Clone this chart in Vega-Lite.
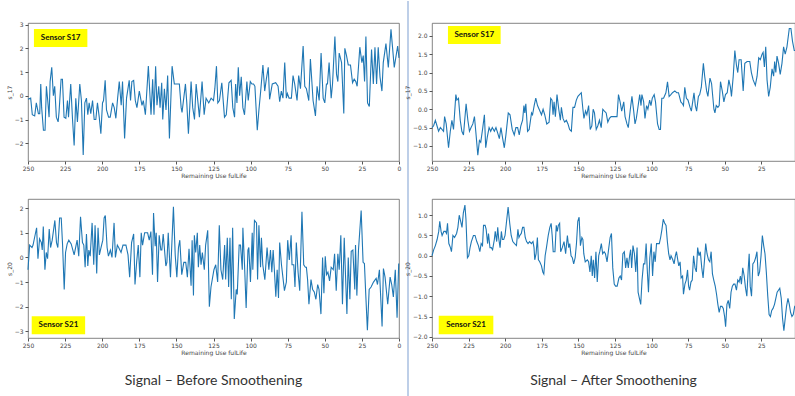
{
"$schema": "https://vega.github.io/schema/vega-lite/v6.json",
"background": "white",
"padding": {"left": 5, "top": 0, "right": 0, "bottom": 0},
"columns": 3,
"spacing": {"row": 38, "column": 9},
"bounds": "flush",
"config": {
  "view": {"stroke": "#666", "strokeWidth": 0.8},
  "axis": {"domain": false, "grid": false, "tickColor": "#555", "tickSize": 3, "labelFont": "DejaVu Sans", "labelFontSize": 6, "labelColor": "#444", "labelOverlap": false, "titleFont": "DejaVu Sans", "titleFontSize": 6, "titleColor": "#444", "titleFontWeight": "normal", "labelPadding": 2, "titlePadding": 2},
  "axisX": {"labelFlush": false, "labelPadding": 1, "titlePadding": 1},
  "line": {"color": "#1f77b4", "strokeWidth": 1.1}
},
"datasets": {
"tl": [{"x":250,"y":-0.15},{"x":248.2,"y":-0.1},{"x":247.1,"y":-0.8},{"x":245.5,"y":-0.85},{"x":244.4,"y":-0.3},{"x":243.0,"y":-0.75},{"x":242.1,"y":-0.75},{"x":241.4,"y":0.5},{"x":240.8,"y":-0.5},{"x":239.6,"y":-1.45},{"x":238.5,"y":-1.45},{"x":237.6,"y":0.4},{"x":236.7,"y":-0.2},{"x":235.8,"y":-0.9},{"x":235.1,"y":0.6},{"x":234.0,"y":1.2},{"x":232.9,"y":0},{"x":232.0,"y":0.4},{"x":230.9,"y":-0.9},{"x":229.7,"y":-1.1},{"x":229.1,"y":-0.7},{"x":227.7,"y":0.7},{"x":226.8,"y":0.7},{"x":225.7,"y":-0.9},{"x":224.5,"y":-0.95},{"x":223.4,"y":-0.2},{"x":222.7,"y":-0.9},{"x":221.2,"y":0.5},{"x":220.0,"y":-1.0},{"x":218.9,"y":-2.1},{"x":217.8,"y":-0.1},{"x":216.7,"y":-1.1},{"x":215.1,"y":0.5},{"x":214.0,"y":-0.2},{"x":212.8,"y":-2.5},{"x":211.7,"y":-0.3},{"x":210.6,"y":-0.1},{"x":209.7,"y":-0.8},{"x":208.8,"y":-0.3},{"x":207.7,"y":-0.75},{"x":206.5,"y":-0.2},{"x":205.4,"y":-1.0},{"x":204.3,"y":-1.0},{"x":203.2,"y":-0.3},{"x":202.0,"y":-0.9},{"x":200.9,"y":-1.6},{"x":199.8,"y":-0.3},{"x":199.1,"y":-0.2},{"x":198.0,"y":0.65},{"x":197.1,"y":-0.6},{"x":195.7,"y":-0.9},{"x":194.6,"y":-0.9},{"x":193.0,"y":-0.3},{"x":191.9,"y":-0.5},{"x":190.8,"y":-0.95},{"x":189.6,"y":-0.1},{"x":188.5,"y":0.6},{"x":187.2,"y":-0.4},{"x":186.3,"y":0.6},{"x":184.9,"y":-1.8},{"x":183.6,"y":-0.1},{"x":181.8,"y":0.65},{"x":180.9,"y":-0.2},{"x":180.0,"y":0.6},{"x":178.8,"y":0.65},{"x":177.7,"y":-0.2},{"x":176.6,"y":-0.5},{"x":175.0,"y":0.2},{"x":173.2,"y":-0.4},{"x":172.3,"y":-0.2},{"x":170.9,"y":-0.8},{"x":168.9,"y":1.25},{"x":167.1,"y":-0.8},{"x":166.0,"y":0.7},{"x":165.1,"y":-0.8},{"x":164.0,"y":1.25},{"x":163.1,"y":-0.4},{"x":161.9,"y":0.4},{"x":161.0,"y":-0.5},{"x":159.9,"y":0.55},{"x":159.2,"y":-1.0},{"x":158.1,"y":0.3},{"x":157.0,"y":-0.6},{"x":155.9,"y":0.85},{"x":154.7,"y":-1.8},{"x":153.6,"y":0.1},{"x":152.9,"y":1.25},{"x":151.4,"y":0.5},{"x":148.0,"y":0.5},{"x":146.8,"y":-0.5},{"x":146.2,"y":-0.7},{"x":143.9,"y":0.5},{"x":143.0,"y":-0.3},{"x":141.9,"y":-1.6},{"x":140.1,"y":0.6},{"x":139.0,"y":-0.5},{"x":137.8,"y":-1.0},{"x":136.7,"y":0.5},{"x":135.6,"y":-0.2},{"x":134.5,"y":-0.9},{"x":132.7,"y":0.6},{"x":131.3,"y":-0.8},{"x":130.0,"y":-0.1},{"x":128.2,"y":-0.3},{"x":126.6,"y":-0.1},{"x":125.0,"y":-0.2},{"x":124.1,"y":0.3},{"x":123.0,"y":1.25},{"x":122.1,"y":-0.3},{"x":121.0,"y":-0.2},{"x":119.4,"y":0.55},{"x":117.6,"y":-0.9},{"x":116.4,"y":-0.8},{"x":114.6,"y":0.55},{"x":113.1,"y":0.65},{"x":112.0,"y":-0.5},{"x":110.8,"y":-0.9},{"x":110.1,"y":0.5},{"x":109.2,"y":-0.3},{"x":108.3,"y":1.2},{"x":107.4,"y":0.0},{"x":106.3,"y":0.8},{"x":105.2,"y":-0.5},{"x":104.1,"y":-0.8},{"x":102.5,"y":0.6},{"x":101.6,"y":-0.2},{"x":100.2,"y":0.6},{"x":99.1,"y":0.5},{"x":98.0,"y":0.5},{"x":97.1,"y":0.4},{"x":95.5,"y":-1.45},{"x":94.4,"y":-0.6},{"x":93.2,"y":0.2},{"x":91.7,"y":1.3},{"x":90.5,"y":0.2},{"x":89.4,"y":0.7},{"x":88.1,"y":1.2},{"x":87.2,"y":-0.15},{"x":85.4,"y":0.5},{"x":83.1,"y":0.55},{"x":81.5,"y":0.4},{"x":80.4,"y":-0.25},{"x":79.3,"y":0.2},{"x":78.2,"y":-0.1},{"x":77.0,"y":1.4},{"x":75.9,"y":-0.1},{"x":75.2,"y":0.1},{"x":74.1,"y":-0.1},{"x":72.5,"y":-0.1},{"x":71.4,"y":0.85},{"x":70.3,"y":0.5},{"x":68.7,"y":-0.2},{"x":67.6,"y":0.85},{"x":66.4,"y":0.3},{"x":64.6,"y":2.1},{"x":63.5,"y":0.4},{"x":62.4,"y":0.3},{"x":60.8,"y":-0.2},{"x":59.7,"y":1.55},{"x":57.9,"y":-0.2},{"x":56.3,"y":-0.85},{"x":55.2,"y":0.4},{"x":53.8,"y":-0.2},{"x":52.5,"y":1.8},{"x":51.1,"y":-0.1},{"x":50.0,"y":-0.3},{"x":48.9,"y":0.5},{"x":48.2,"y":0.5},{"x":47.1,"y":1.4},{"x":45.7,"y":-0.1},{"x":44.8,"y":0.5},{"x":43.2,"y":2.5},{"x":42.1,"y":0.9},{"x":41.2,"y":0.6},{"x":40.3,"y":1.8},{"x":38.7,"y":1.4},{"x":37.2,"y":-0.75},{"x":36.5,"y":2.0},{"x":35.4,"y":1.7},{"x":34.2,"y":1.3},{"x":32.7,"y":1.3},{"x":31.3,"y":0.55},{"x":30.2,"y":0.7},{"x":29.1,"y":0.6},{"x":28.2,"y":0.4},{"x":26.4,"y":2.05},{"x":25.0,"y":1.4},{"x":24.1,"y":1.7},{"x":23.2,"y":0.6},{"x":22.3,"y":2.5},{"x":21.2,"y":-0.3},{"x":20.0,"y":-0.45},{"x":18.5,"y":1.95},{"x":17.3,"y":0.5},{"x":16.2,"y":2.05},{"x":15.1,"y":0.5},{"x":14.0,"y":2.05},{"x":12.8,"y":0.8},{"x":11.5,"y":0.2},{"x":10.6,"y":1.4},{"x":8.8,"y":2.2},{"x":7.2,"y":1.2},{"x":5.4,"y":2.8},{"x":4.3,"y":2.0},{"x":3.2,"y":1.2},{"x":0.9,"y":2.1},{"x":0,"y":1.6}],
"bl": [{"x":250,"y":-0.5},{"x":248.9,"y":0.5},{"x":247.3,"y":0.4},{"x":246.6,"y":0.5},{"x":244.9,"y":1.0},{"x":244.2,"y":1.2},{"x":243.3,"y":-0.05},{"x":242.2,"y":0.75},{"x":241.0,"y":0.6},{"x":240.4,"y":0.3},{"x":239.7,"y":1.25},{"x":238.6,"y":-0.5},{"x":237.7,"y":0.2},{"x":236.8,"y":-0.05},{"x":235.7,"y":1.15},{"x":234.8,"y":0.4},{"x":233.7,"y":0.7},{"x":231.9,"y":1.5},{"x":230.8,"y":0.6},{"x":229.9,"y":0.4},{"x":228.7,"y":1.6},{"x":227.6,"y":1.6},{"x":226.7,"y":0.5},{"x":225.6,"y":-1.3},{"x":224.7,"y":0.2},{"x":223.6,"y":0.55},{"x":222.5,"y":0.7},{"x":220.9,"y":0.55},{"x":220.0,"y":0.35},{"x":218.9,"y":0.1},{"x":216.9,"y":0.7},{"x":215.8,"y":0.05},{"x":214.6,"y":1.65},{"x":213.3,"y":0.6},{"x":212.4,"y":0.5},{"x":211.5,"y":-0.4},{"x":210.6,"y":0.95},{"x":209.7,"y":-0.35},{"x":209.0,"y":0.3},{"x":208.1,"y":0.05},{"x":206.8,"y":1.4},{"x":205.7,"y":-0.3},{"x":204.8,"y":1.3},{"x":203.7,"y":-0.65},{"x":202.8,"y":1.2},{"x":201.9,"y":0.1},{"x":200.8,"y":0.4},{"x":199.6,"y":0.7},{"x":198.7,"y":1.6},{"x":197.9,"y":1.7},{"x":196.7,"y":0.4},{"x":195.8,"y":0.05},{"x":194.5,"y":0.3},{"x":193.4,"y":0.0},{"x":192.0,"y":1.4},{"x":191.1,"y":0.0},{"x":189.8,"y":0.5},{"x":188.9,"y":0.4},{"x":187.3,"y":0.2},{"x":186.0,"y":0.5},{"x":184.0,"y":0.5},{"x":182.6,"y":0.1},{"x":181.5,"y":-0.8},{"x":180.2,"y":0.6},{"x":178.8,"y":0.95},{"x":177.9,"y":-1.1},{"x":176.8,"y":-0.2},{"x":175.7,"y":0.5},{"x":174.6,"y":-0.8},{"x":173.7,"y":1.0},{"x":172.8,"y":0.5},{"x":171.4,"y":1.0},{"x":169.4,"y":1.0},{"x":168.3,"y":0.7},{"x":167.2,"y":1.05},{"x":166.1,"y":-0.7},{"x":165.4,"y":1.8},{"x":164.3,"y":0.45},{"x":163.6,"y":1.0},{"x":162.7,"y":-1.0},{"x":161.6,"y":0.9},{"x":160.5,"y":0.3},{"x":159.8,"y":0.3},{"x":158.9,"y":0.95},{"x":157.1,"y":-0.35},{"x":156.4,"y":-0.2},{"x":155.5,"y":1.0},{"x":154.0,"y":-0.8},{"x":153.1,"y":0.5},{"x":152.0,"y":2.05},{"x":150.8,"y":0.1},{"x":149.7,"y":-0.8},{"x":148.6,"y":0.4},{"x":147.7,"y":0.7},{"x":146.4,"y":-0.7},{"x":145.0,"y":-0.2},{"x":143.7,"y":-0.2},{"x":142.6,"y":-0.8},{"x":141.5,"y":0.35},{"x":140.1,"y":-1.15},{"x":139.4,"y":0.7},{"x":138.5,"y":-1.55},{"x":137.9,"y":0.9},{"x":137.0,"y":0.2},{"x":135.9,"y":1.0},{"x":135.2,"y":-0.4},{"x":134.3,"y":0.5},{"x":133.4,"y":-0.3},{"x":132.5,"y":0.2},{"x":131.2,"y":-0.5},{"x":130.3,"y":0.5},{"x":128.9,"y":1.1},{"x":127.8,"y":-2.0},{"x":126.7,"y":-1.2},{"x":124.7,"y":-0.5},{"x":123.5,"y":-0.3},{"x":122.2,"y":-1.0},{"x":121.1,"y":1.3},{"x":120.0,"y":-0.5},{"x":118.8,"y":-0.9},{"x":117.5,"y":0.5},{"x":116.8,"y":-0.9},{"x":115.7,"y":0.8},{"x":114.8,"y":-1.2},{"x":113.9,"y":0.8},{"x":113.0,"y":-1.7},{"x":112.1,"y":1.2},{"x":111.0,"y":-2.5},{"x":109.7,"y":-1.3},{"x":109.0,"y":-1.5},{"x":107.7,"y":0.5},{"x":106.8,"y":0.5},{"x":105.6,"y":-0.5},{"x":105.2,"y":1.2},{"x":104.1,"y":-0.3},{"x":103.0,"y":-2.05},{"x":101.8,"y":0.3},{"x":101.2,"y":0.4},{"x":100.1,"y":-1.0},{"x":98.9,"y":1.0},{"x":98.5,"y":-0.5},{"x":97.4,"y":1.5},{"x":96.0,"y":1.4},{"x":95.3,"y":-0.9},{"x":94.4,"y":1.3},{"x":93.3,"y":-0.4},{"x":92.7,"y":0.8},{"x":91.8,"y":-0.3},{"x":90.4,"y":-0.9},{"x":88.9,"y":0.4},{"x":87.7,"y":-0.5},{"x":86.6,"y":0.3},{"x":85.7,"y":-0.6},{"x":84.8,"y":0.3},{"x":83.9,"y":-0.6},{"x":83.0,"y":-1.6},{"x":82.1,"y":-0.5},{"x":81.2,"y":-1.65},{"x":80.4,"y":0.6},{"x":79.2,"y":-0.3},{"x":77.2,"y":-1.35},{"x":75.9,"y":-1.0},{"x":75.0,"y":0.7},{"x":73.9,"y":-0.1},{"x":72.7,"y":0.9},{"x":72.1,"y":-0.3},{"x":70.9,"y":-0.3},{"x":70.1,"y":-1.2},{"x":69.2,"y":0.6},{"x":68.0,"y":-0.6},{"x":66.9,"y":-1.35},{"x":65.4,"y":1.85},{"x":64.2,"y":-0.3},{"x":63.1,"y":-0.4},{"x":62.4,"y":-0.4},{"x":61.6,"y":-0.9},{"x":60.7,"y":-1.9},{"x":59.3,"y":-0.9},{"x":58.2,"y":-1.3},{"x":57.1,"y":-1.4},{"x":56.0,"y":-1.7},{"x":54.8,"y":-1.1},{"x":53.9,"y":-1.3},{"x":52.6,"y":-2.3},{"x":51.5,"y":0.0},{"x":50.6,"y":-1.45},{"x":49.7,"y":0.05},{"x":48.8,"y":-0.7},{"x":47.9,"y":-0.6},{"x":46.8,"y":-0.95},{"x":45.7,"y":-0.4},{"x":44.3,"y":-0.5},{"x":43.4,"y":0.15},{"x":42.3,"y":-1.35},{"x":41.2,"y":0.15},{"x":40.3,"y":-0.5},{"x":39.2,"y":0.9},{"x":38.1,"y":-1.9},{"x":36.9,"y":0.8},{"x":36.3,"y":-0.3},{"x":35.1,"y":-2.3},{"x":34.2,"y":0.0},{"x":33.1,"y":-1.7},{"x":32.2,"y":0.25},{"x":31.1,"y":0.3},{"x":29.8,"y":-1.3},{"x":29.3,"y":0.5},{"x":28.4,"y":-1.55},{"x":27.3,"y":0.3},{"x":25.5,"y":1.9},{"x":24.2,"y":-0.2},{"x":23.3,"y":-0.25},{"x":22.4,"y":-1.5},{"x":21.3,"y":-2.95},{"x":20.1,"y":-1.3},{"x":18.8,"y":-1.2},{"x":17.2,"y":-1.0},{"x":15.4,"y":-0.85},{"x":14.5,"y":-1.1},{"x":13.2,"y":-0.5},{"x":11.4,"y":-2.8},{"x":10.5,"y":-0.45},{"x":9.4,"y":-0.8},{"x":7.6,"y":-1.9},{"x":6.0,"y":-0.8},{"x":4.9,"y":-1.1},{"x":3.8,"y":-1.6},{"x":2.5,"y":-0.5},{"x":1.3,"y":-2.45},{"x":0.2,"y":-0.25}],
"tr": [{"x":250,"y":-0.5},{"x":248.9,"y":-0.45},{"x":247.7,"y":-0.3},{"x":246.6,"y":-0.45},{"x":245.5,"y":-0.6},{"x":244.3,"y":-0.5},{"x":243.2,"y":-0.55},{"x":242.1,"y":-0.6},{"x":241.4,"y":-0.2},{"x":240.3,"y":-0.4},{"x":238.7,"y":-1.05},{"x":237.5,"y":-0.6},{"x":236.4,"y":-0.3},{"x":235.3,"y":-0.55},{"x":233.7,"y":0.4},{"x":233.0,"y":0.25},{"x":231.9,"y":0.3},{"x":230.7,"y":-0.3},{"x":229.6,"y":-0.6},{"x":228.5,"y":-0.7},{"x":226.7,"y":0.15},{"x":225.5,"y":-0.3},{"x":224.4,"y":-0.6},{"x":223.3,"y":-0.5},{"x":222.1,"y":-0.4},{"x":221.0,"y":-0.2},{"x":220.1,"y":-0.6},{"x":218.7,"y":-1.25},{"x":217.6,"y":-0.85},{"x":216.7,"y":-0.9},{"x":215.3,"y":-0.5},{"x":214.2,"y":-0.15},{"x":213.3,"y":-1.05},{"x":212.2,"y":-0.75},{"x":211.0,"y":-0.5},{"x":209.9,"y":-0.6},{"x":208.8,"y":-0.5},{"x":207.4,"y":-0.6},{"x":206.3,"y":-0.5},{"x":205.1,"y":-0.65},{"x":204.0,"y":-0.8},{"x":202.9,"y":-0.5},{"x":201.7,"y":-0.8},{"x":200.6,"y":-1.05},{"x":199.5,"y":-0.7},{"x":197.9,"y":-0.1},{"x":196.7,"y":-0.15},{"x":195.2,"y":-0.55},{"x":193.8,"y":-0.7},{"x":192.7,"y":-0.5},{"x":191.5,"y":-0.5},{"x":190.4,"y":-0.7},{"x":189.3,"y":-0.45},{"x":188.1,"y":-0.3},{"x":187.2,"y":0.1},{"x":186.6,"y":-0.1},{"x":185.9,"y":0.15},{"x":184.7,"y":-0.6},{"x":183.6,"y":-0.55},{"x":182.0,"y":-0.1},{"x":181.3,"y":-0.15},{"x":180.2,"y":0.1},{"x":179.1,"y":0.3},{"x":177.9,"y":0.1},{"x":176.8,"y":0.0},{"x":175.2,"y":-0.15},{"x":174.1,"y":0.0},{"x":173.0,"y":-0.15},{"x":171.6,"y":-0.4},{"x":170.0,"y":-0.35},{"x":168.9,"y":0.3},{"x":168.0,"y":0.25},{"x":167.3,"y":-0.15},{"x":166.6,"y":0.2},{"x":165.7,"y":-0.2},{"x":164.6,"y":0.4},{"x":163.4,"y":0.0},{"x":162.3,"y":-0.3},{"x":161.6,"y":0.05},{"x":160.5,"y":-0.25},{"x":159.4,"y":-0.35},{"x":158.2,"y":-0.3},{"x":157.1,"y":-0.4},{"x":156.0,"y":-0.55},{"x":154.8,"y":-0.6},{"x":153.7,"y":0.05},{"x":152.6,"y":0.05},{"x":151.4,"y":0.25},{"x":150.3,"y":0.35},{"x":148.0,"y":0.45},{"x":146.9,"y":0.0},{"x":146.2,"y":-0.25},{"x":145.1,"y":-0.05},{"x":144.2,"y":-0.15},{"x":143.0,"y":0.1},{"x":141.9,"y":-0.55},{"x":140.8,"y":-0.45},{"x":139.9,"y":0.0},{"x":139.0,"y":-0.1},{"x":137.8,"y":-0.55},{"x":136.7,"y":-0.45},{"x":135.6,"y":-0.3},{"x":134.4,"y":-0.5},{"x":133.3,"y":0.0},{"x":132.2,"y":-0.05},{"x":131.0,"y":-0.1},{"x":129.9,"y":-0.35},{"x":128.8,"y":-0.25},{"x":127.6,"y":-0.2},{"x":125.4,"y":-0.2},{"x":123.6,"y":-0.2},{"x":122.6,"y":0.4},{"x":121.5,"y":0.2},{"x":120.4,"y":-0.05},{"x":119.0,"y":0.2},{"x":118.1,"y":-0.2},{"x":116.8,"y":-0.4},{"x":115.9,"y":-0.5},{"x":114.5,"y":0.0},{"x":113.4,"y":0.35},{"x":112.2,"y":-0.05},{"x":111.3,"y":-0.4},{"x":110.4,"y":-0.25},{"x":109.5,"y":0.0},{"x":108.1,"y":0.4},{"x":107.2,"y":0.1},{"x":106.6,"y":0.4},{"x":105.4,"y":0.2},{"x":104.5,"y":-0.25},{"x":103.4,"y":0.1},{"x":102.5,"y":0.0},{"x":101.3,"y":0.25},{"x":100.4,"y":0.1},{"x":99.5,"y":0.3},{"x":98.2,"y":0.4},{"x":97.3,"y":0.2},{"x":95.9,"y":-0.4},{"x":94.8,"y":-0.55},{"x":93.9,"y":-0.55},{"x":93.0,"y":0.3},{"x":91.8,"y":0.3},{"x":90.2,"y":0.45},{"x":89.1,"y":0.75},{"x":88.0,"y":0.35},{"x":86.8,"y":0.4},{"x":85.7,"y":0.45},{"x":84.1,"y":0.5},{"x":82.8,"y":0.45},{"x":81.6,"y":0.45},{"x":80.0,"y":0.2},{"x":78.9,"y":0.15},{"x":78.2,"y":0.1},{"x":77.3,"y":0.6},{"x":76.2,"y":0.3},{"x":75.1,"y":0.25},{"x":73.7,"y":0.05},{"x":72.8,"y":-0.05},{"x":71.9,"y":0.2},{"x":71.0,"y":0.45},{"x":70.1,"y":0.1},{"x":69.2,"y":-0.05},{"x":68.0,"y":0.35},{"x":67.1,"y":0.4},{"x":66.0,"y":0.6},{"x":64.6,"y":1.25},{"x":63.7,"y":0.9},{"x":62.4,"y":0.5},{"x":61.5,"y":0.35},{"x":60.1,"y":0.85},{"x":59.0,"y":0.7},{"x":57.4,"y":0.0},{"x":56.7,"y":-0.1},{"x":55.8,"y":0.1},{"x":54.7,"y":0.05},{"x":53.8,"y":0.1},{"x":52.9,"y":0.75},{"x":51.7,"y":0.5},{"x":50.6,"y":0.2},{"x":49.5,"y":0.4},{"x":48.3,"y":0.45},{"x":47.2,"y":0.8},{"x":46.1,"y":0.6},{"x":45.4,"y":0.35},{"x":44.2,"y":0.9},{"x":43.1,"y":1.6},{"x":42.0,"y":1.2},{"x":41.1,"y":1.0},{"x":40.2,"y":1.35},{"x":38.8,"y":1.35},{"x":37.4,"y":0.5},{"x":36.3,"y":1.25},{"x":34.7,"y":1.3},{"x":32.9,"y":1.3},{"x":31.8,"y":1.0},{"x":30.6,"y":0.8},{"x":29.1,"y":0.65},{"x":27.9,"y":0.9},{"x":26.8,"y":1.4},{"x":25.7,"y":1.35},{"x":24.5,"y":1.5},{"x":23.8,"y":1.55},{"x":22.9,"y":1.15},{"x":22.0,"y":1.7},{"x":21.1,"y":0.8},{"x":20.0,"y":0.35},{"x":18.9,"y":0.6},{"x":17.7,"y":1.1},{"x":16.6,"y":0.9},{"x":15.9,"y":1.3},{"x":15.1,"y":1.0},{"x":14.3,"y":1.45},{"x":13.2,"y":1.25},{"x":12.1,"y":0.95},{"x":10.9,"y":1.25},{"x":9.8,"y":1.7},{"x":8.7,"y":1.5},{"x":7.5,"y":1.7},{"x":5.9,"y":2.2},{"x":4.8,"y":2.2},{"x":3.7,"y":1.85},{"x":2.5,"y":1.6},{"x":2.0,"y":1.6}],
"br": [{"x":250,"y":0.0},{"x":248.8,"y":0.15},{"x":247.7,"y":0.25},{"x":246.5,"y":0.4},{"x":245.4,"y":0.6},{"x":244.7,"y":0.85},{"x":243.8,"y":0.6},{"x":243.1,"y":0.5},{"x":241.9,"y":0.6},{"x":240.8,"y":0.6},{"x":240.1,"y":0.55},{"x":239.4,"y":0.8},{"x":238.5,"y":0.3},{"x":237.4,"y":0.2},{"x":236.7,"y":0.1},{"x":235.7,"y":0.5},{"x":234.6,"y":0.45},{"x":233.2,"y":0.55},{"x":232.3,"y":0.7},{"x":231.4,"y":1.0},{"x":230.4,"y":0.85},{"x":229.5,"y":0.7},{"x":228.6,"y":1.05},{"x":227.5,"y":1.25},{"x":226.8,"y":0.9},{"x":225.8,"y":-0.05},{"x":224.9,"y":0.0},{"x":224.0,"y":0.2},{"x":223.1,"y":0.35},{"x":221.7,"y":0.5},{"x":220.6,"y":0.5},{"x":219.4,"y":0.35},{"x":218.3,"y":0.25},{"x":217.3,"y":0.1},{"x":216.4,"y":0.3},{"x":215.5,"y":0.25},{"x":214.8,"y":0.75},{"x":213.7,"y":0.75},{"x":213.0,"y":0.65},{"x":212.0,"y":0.3},{"x":211.4,"y":0.55},{"x":210.4,"y":0.2},{"x":209.5,"y":0.2},{"x":208.6,"y":0.15},{"x":207.4,"y":0.4},{"x":206.8,"y":0.6},{"x":205.8,"y":0.35},{"x":205.1,"y":0.7},{"x":204.5,"y":0.45},{"x":203.5,"y":0.2},{"x":202.6,"y":0.6},{"x":201.9,"y":0.4},{"x":201.0,"y":0.4},{"x":200.1,"y":0.5},{"x":199.2,"y":0.8},{"x":198.0,"y":1.2},{"x":196.9,"y":0.8},{"x":195.9,"y":0.5},{"x":194.8,"y":0.35},{"x":193.6,"y":0.3},{"x":192.3,"y":0.25},{"x":191.3,"y":0.65},{"x":190.6,"y":0.45},{"x":190.0,"y":0.5},{"x":189.0,"y":0.55},{"x":188.1,"y":0.7},{"x":187.2,"y":0.7},{"x":186.3,"y":0.45},{"x":185.4,"y":0.35},{"x":184.4,"y":0.3},{"x":183.3,"y":0.35},{"x":182.1,"y":0.3},{"x":181.0,"y":0.35},{"x":180.3,"y":0.2},{"x":179.8,"y":-0.1},{"x":178.9,"y":0.05},{"x":178.0,"y":0.45},{"x":177.3,"y":-0.1},{"x":176.4,"y":-0.15},{"x":175.2,"y":-0.25},{"x":174.3,"y":-0.4},{"x":173.6,"y":-0.45},{"x":172.7,"y":0.0},{"x":171.8,"y":0.2},{"x":170.6,"y":0.5},{"x":169.5,"y":0.7},{"x":168.6,"y":0.8},{"x":167.9,"y":0.5},{"x":167.2,"y":0.1},{"x":166.0,"y":0.1},{"x":165.1,"y":0.75},{"x":164.4,"y":0.6},{"x":163.7,"y":0.75},{"x":162.8,"y":0.8},{"x":162.1,"y":0.1},{"x":161.0,"y":0.2},{"x":159.8,"y":0.35},{"x":158.7,"y":0.05},{"x":157.5,"y":0.5},{"x":156.6,"y":0.2},{"x":155.9,"y":0.3},{"x":155.0,"y":0.0},{"x":154.1,"y":-0.05},{"x":153.2,"y":-0.2},{"x":152.2,"y":-0.05},{"x":151.3,"y":0.3},{"x":150.4,"y":0.85},{"x":149.5,"y":0.95},{"x":148.6,"y":0.25},{"x":147.6,"y":0.45},{"x":146.9,"y":0.4},{"x":146.3,"y":0.05},{"x":145.3,"y":-0.15},{"x":143.9,"y":-0.1},{"x":143.0,"y":-0.15},{"x":142.1,"y":-0.4},{"x":141.2,"y":0.0},{"x":140.5,"y":-0.5},{"x":139.8,"y":-0.1},{"x":138.9,"y":-0.55},{"x":138.0,"y":0.1},{"x":137.1,"y":-0.65},{"x":136.1,"y":0.0},{"x":135.4,"y":0.1},{"x":134.3,"y":0.3},{"x":133.4,"y":0.05},{"x":132.4,"y":0.1},{"x":131.5,"y":0.05},{"x":130.4,"y":-0.15},{"x":129.2,"y":0.2},{"x":128.3,"y":0.45},{"x":127.4,"y":0.55},{"x":126.5,"y":-0.3},{"x":125.5,"y":-0.7},{"x":124.6,"y":-0.75},{"x":123.5,"y":-0.75},{"x":122.3,"y":-0.55},{"x":121.4,"y":-0.5},{"x":120.5,"y":-0.6},{"x":119.6,"y":0.05},{"x":118.6,"y":0.1},{"x":117.7,"y":-0.3},{"x":116.8,"y":-0.05},{"x":115.9,"y":-0.3},{"x":115.0,"y":0.0},{"x":114.3,"y":0.15},{"x":113.6,"y":-0.3},{"x":112.7,"y":0.25},{"x":111.7,"y":0.05},{"x":110.8,"y":-0.4},{"x":109.9,"y":0.2},{"x":109.2,"y":-0.9},{"x":108.3,"y":-1.05},{"x":107.4,"y":-1.2},{"x":106.5,"y":-0.6},{"x":105.5,"y":-0.2},{"x":104.6,"y":-0.2},{"x":103.7,"y":0.3},{"x":103.0,"y":-0.3},{"x":102.1,"y":-0.9},{"x":101.2,"y":-0.05},{"x":100.2,"y":0.3},{"x":99.3,"y":-0.5},{"x":98.4,"y":0.1},{"x":97.5,"y":-0.15},{"x":96.6,"y":0.3},{"x":95.6,"y":0.3},{"x":94.7,"y":0.3},{"x":93.8,"y":0.45},{"x":92.9,"y":0.65},{"x":92.0,"y":0.9},{"x":91.0,"y":0.8},{"x":90.1,"y":0.75},{"x":89.2,"y":0.35},{"x":88.3,"y":0.05},{"x":87.4,"y":-0.1},{"x":86.7,"y":0.0},{"x":85.5,"y":-0.1},{"x":84.6,"y":-0.2},{"x":83.7,"y":0.0},{"x":83.0,"y":0.1},{"x":82.1,"y":-0.1},{"x":81.4,"y":-0.25},{"x":80.5,"y":-0.15},{"x":79.8,"y":-0.55},{"x":78.8,"y":-0.5},{"x":78.2,"y":-0.95},{"x":77.2,"y":-0.7},{"x":76.3,"y":-0.6},{"x":75.4,"y":-0.35},{"x":74.7,"y":-0.75},{"x":74.0,"y":-0.85},{"x":73.1,"y":-0.65},{"x":72.2,"y":-0.6},{"x":71.3,"y":0.0},{"x":70.3,"y":-0.3},{"x":69.4,"y":-0.4},{"x":68.5,"y":0.2},{"x":67.6,"y":0.0},{"x":66.7,"y":0.1},{"x":65.7,"y":-0.3},{"x":64.8,"y":-0.55},{"x":63.7,"y":-0.05},{"x":63.0,"y":0.3},{"x":62.1,"y":0.05},{"x":61.1,"y":-0.1},{"x":60.2,"y":-0.15},{"x":59.3,"y":0.1},{"x":58.4,"y":-0.45},{"x":57.5,"y":-0.6},{"x":56.5,"y":-0.75},{"x":55.6,"y":-0.95},{"x":54.7,"y":-1.2},{"x":53.8,"y":-1.4},{"x":52.9,"y":-1.25},{"x":51.9,"y":-1.25},{"x":51.0,"y":-1.3},{"x":50.1,"y":-1.5},{"x":49.4,"y":-1.75},{"x":48.5,"y":-1.2},{"x":47.6,"y":-1.1},{"x":46.6,"y":-1.3},{"x":45.7,"y":-0.9},{"x":44.8,"y":-0.75},{"x":43.9,"y":-0.7},{"x":43.0,"y":-0.7},{"x":42.0,"y":-0.85},{"x":41.1,"y":-0.6},{"x":40.2,"y":-0.65},{"x":39.3,"y":-0.5},{"x":38.6,"y":-0.7},{"x":37.7,"y":-0.3},{"x":36.7,"y":-0.5},{"x":35.8,"y":-0.8},{"x":34.9,"y":-1.0},{"x":34.0,"y":-0.35},{"x":33.3,"y":0.05},{"x":32.6,"y":-0.75},{"x":31.7,"y":-1.0},{"x":30.8,"y":-0.2},{"x":29.8,"y":-0.15},{"x":28.9,"y":-0.05},{"x":28.0,"y":0.1},{"x":27.1,"y":-0.5},{"x":26.2,"y":-0.4},{"x":25.2,"y":0.0},{"x":24.3,"y":0.5},{"x":23.4,"y":0.25},{"x":22.5,"y":0.05},{"x":21.6,"y":-0.4},{"x":20.6,"y":-1.0},{"x":19.7,"y":-1.45},{"x":18.8,"y":-1.5},{"x":17.9,"y":-1.35},{"x":17.0,"y":-1.3},{"x":16.0,"y":-1.2},{"x":15.1,"y":-1.05},{"x":14.2,"y":-0.9},{"x":13.3,"y":-0.85},{"x":12.4,"y":-0.8},{"x":11.4,"y":-1.05},{"x":10.5,"y":-1.55},{"x":9.6,"y":-1.85},{"x":8.7,"y":-1.55},{"x":7.8,"y":-1.25},{"x":6.8,"y":-1.05},{"x":5.9,"y":-1.2},{"x":5.0,"y":-1.4},{"x":4.1,"y":-1.5},{"x":3.2,"y":-1.45},{"x":2.2,"y":-1.25},{"x":2.0,"y":-1.25}]
},
"concat": [
    {"width": 371, "height": 138,
     "layer": [
      {"data": {"name": "tl"}, "mark": {"type": "line"},
       "encoding": {
        "x": {"field": "x", "type": "quantitative", "scale": {"domain": [0, 250], "reverse": true, "nice": false, "zero": false}, "axis": {"values": [0,25,50,75,100,125,150,175,200,225,250], "title": "Remaining Use fulLife"}},
        "y": {"field": "y", "type": "quantitative", "scale": {"domain": [-2.75, 3.07], "nice": false, "zero": false}, "axis": {"values": [-2,-1,0,1,2,3], "title": "s_17"}}}},
      {"data": {"values": [{}]}, "mark": {"type": "rect", "color": "#ffff00"},
       "encoding": {"x": {"datum": 246, "axis": {"values": [0,25,50,75,100,125,150,175,200,225,250], "title": "Remaining Use fulLife"}}, "x2": {"datum": 210}, "y": {"datum": 2.82, "axis": {"values": [-2,-1,0,1,2,3], "title": "s_17"}}, "y2": {"datum": 2.06}}},
      {"data": {"values": [{}]}, "mark": {"type": "text", "text": "Sensor S17", "font": "Lato", "fontWeight": "bold", "fontSize": 8, "color": "#111"},
       "encoding": {"x": {"datum": 228, "axis": {"values": [0,25,50,75,100,125,150,175,200,225,250], "title": "Remaining Use fulLife"}}, "y": {"datum": 2.44, "axis": {"values": [-2,-1,0,1,2,3], "title": "s_17"}}}}
     ]},
    {"width": 15, "height": 138, "view": {"stroke": null},
     "data": {"values": [{}]},
     "mark": {"type": "rule", "color": "#a9bfe0", "strokeWidth": 1.5, "clip": false},
     "encoding": {
      "x": {"datum": 0, "scale": {"domain": [0, 1]}, "axis": null},
      "y": {"datum": 1.16, "scale": {"domain": [0, 1]}, "axis": null},
      "y2": {"datum": -0.138}}},
    {"width": 363, "height": 138,
     "layer": [
      {"data": {"name": "tr"}, "mark": {"type": "line"},
       "encoding": {
        "x": {"field": "x", "type": "quantitative", "scale": {"domain": [2, 250], "reverse": true, "nice": false, "zero": false}, "axis": {"values": [25,50,75,100,125,150,175,200,225,250], "title": "Remaining Use fulLife"}},
        "y": {"field": "y", "type": "quantitative", "scale": {"domain": [-1.41, 2.35], "nice": false, "zero": false}, "axis": {"values": [-1,-0.5,0,0.5,1,1.5,2], "format": ".1f", "title": "s_17"}}}},
      {"data": {"values": [{}]}, "mark": {"type": "rect", "color": "#ffff00"},
       "encoding": {"x": {"datum": 239.1, "axis": {"values": [25,50,75,100,125,150,175,200,225,250], "title": "Remaining Use fulLife"}}, "x2": {"datum": 203.1}, "y": {"datum": 2.27, "axis": {"values": [-1,-0.5,0,0.5,1,1.5,2], "format": ".1f", "title": "s_17"}}, "y2": {"datum": 1.78}}},
      {"data": {"values": [{}]}, "mark": {"type": "text", "text": "Sensor S17", "font": "Lato", "fontWeight": "bold", "fontSize": 8, "color": "#111"},
       "encoding": {"x": {"datum": 221.1, "axis": {"values": [25,50,75,100,125,150,175,200,225,250], "title": "Remaining Use fulLife"}}, "y": {"datum": 2.025, "axis": {"values": [-1,-0.5,0,0.5,1,1.5,2], "format": ".1f", "title": "s_17"}}}}
     ]},
    {"width": 371, "height": 139,
     "title": {"text": "Signal – Before Smoothening", "orient": "bottom", "offset": 19, "fontSize": 14, "font": "Lato", "fontWeight": "normal", "color": "#333", "anchor": "middle"},
     "layer": [
      {"data": {"name": "bl"}, "mark": {"type": "line"},
       "encoding": {
        "x": {"field": "x", "type": "quantitative", "scale": {"domain": [0, 250], "reverse": true, "nice": false, "zero": false}, "axis": {"values": [0,25,50,75,100,125,150,175,200,225,250], "title": "Remaining Use fulLife"}},
        "y": {"field": "y", "type": "quantitative", "scale": {"domain": [-3.27, 2.37], "nice": false, "zero": false}, "axis": {"values": [-3,-2,-1,0,1,2], "title": "s_20"}}}},
      {"data": {"values": [{}]}, "mark": {"type": "rect", "color": "#ffff00"},
       "encoding": {"x": {"datum": 247.5, "axis": {"values": [0,25,50,75,100,125,150,175,200,225,250], "title": "Remaining Use fulLife"}}, "x2": {"datum": 211.5}, "y": {"datum": -2.39, "axis": {"values": [-3,-2,-1,0,1,2], "title": "s_20"}}, "y2": {"datum": -3.12}}},
      {"data": {"values": [{}]}, "mark": {"type": "text", "text": "Sensor S21", "font": "Lato", "fontWeight": "bold", "fontSize": 8, "color": "#111"},
       "encoding": {"x": {"datum": 229.5, "axis": {"values": [0,25,50,75,100,125,150,175,200,225,250], "title": "Remaining Use fulLife"}}, "y": {"datum": -2.755, "axis": {"values": [-3,-2,-1,0,1,2], "title": "s_20"}}}}
     ]},
    {"width": 15, "height": 139, "view": {"stroke": null},
     "data": {"values": [{}]},
     "mark": {"type": "rule", "color": "#a9bfe0", "strokeWidth": 1.5, "clip": false},
     "encoding": {
      "x": {"datum": 0, "scale": {"domain": [0, 1]}, "axis": null},
      "y": {"datum": 1.137, "scale": {"domain": [0, 1]}, "axis": null},
      "y2": {"datum": -0.424}}},
    {"width": 363, "height": 139,
     "title": {"text": "Signal – After Smoothening", "orient": "bottom", "offset": 19, "fontSize": 14, "font": "Lato", "fontWeight": "normal", "color": "#333", "anchor": "middle"},
     "layer": [
      {"data": {"name": "br"}, "mark": {"type": "line"},
       "encoding": {
        "x": {"field": "x", "type": "quantitative", "scale": {"domain": [2, 250], "reverse": true, "nice": false, "zero": false}, "axis": {"values": [25,50,75,100,125,150,175,200,225,250], "title": "Remaining Use fulLife"}},
        "y": {"field": "y", "type": "quantitative", "scale": {"domain": [-2.03, 1.4], "nice": false, "zero": false}, "axis": {"values": [-2,-1.5,-1,-0.5,0,0.5,1], "format": ".1f", "title": "s_20"}}}},
      {"data": {"values": [{}]}, "mark": {"type": "rect", "color": "#ffff00"},
       "encoding": {"x": {"datum": 245.4, "axis": {"values": [25,50,75,100,125,150,175,200,225,250], "title": "Remaining Use fulLife"}}, "x2": {"datum": 208.1}, "y": {"datum": -1.48, "axis": {"values": [-2,-1.5,-1,-0.5,0,0.5,1], "format": ".1f", "title": "s_20"}}, "y2": {"datum": -1.94}}},
      {"data": {"values": [{}]}, "mark": {"type": "text", "text": "Sensor S21", "font": "Lato", "fontWeight": "bold", "fontSize": 8, "color": "#111"},
       "encoding": {"x": {"datum": 226.75, "axis": {"values": [25,50,75,100,125,150,175,200,225,250], "title": "Remaining Use fulLife"}}, "y": {"datum": -1.71, "axis": {"values": [-2,-1.5,-1,-0.5,0,0.5,1], "format": ".1f", "title": "s_20"}}}}
     ]}
]
}
